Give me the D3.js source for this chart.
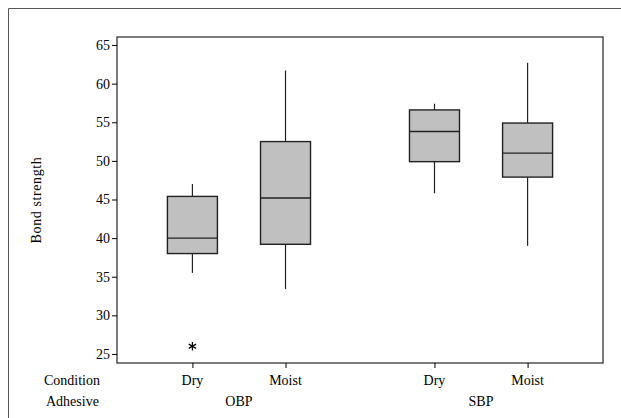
<!DOCTYPE html>
<html><head><meta charset="utf-8">
<script src="https://cdn.jsdelivr.net/npm/d3@7"></script>
<style>body{margin:0;background:#fff;font-family:'Liberation Serif'}svg{display:block}</style>
</head><body>
<script>
const conditions = ["Dry","Moist","Dry","Moist"];
const adhesives = ["OBP","SBP"];
const adhesiveOf = [0,0,1,1];
const positions = [0, 1, 2.6, 3.6];
const whiskerLow = [35.5, 33.4, 45.8, 39.0];
const q1 = [38.0, 39.2, 49.9, 47.9];
const median = [40.0, 45.2, 53.8, 51.0];
const q3 = [45.4, 52.5, 56.6, 54.9];
const whiskerHigh = [47.0, 61.7, 57.4, 62.7];
const outliers = [{box:0, value:26.0}];
const yTicks = [25,30,35,40,45,50,55,60,65];
const yTitle = "Bond strength";

const W = 621, H = 418;
const FONT = "Liberation Serif";
const FS = 14;
const svg = d3.select("body").append("svg").attr("width", W).attr("height", H).attr("font-family", FONT);
const L = 117, R = 603, T = 37, B = 363;
const x = d3.scaleLinear().domain([-0.81, 4.41]).range([L, R]);
const y = d3.scaleLinear().domain([23.83, 66.04]).range([B, T]);

svg.append("path").attr("d", `M8.5,418V8.5H621`).attr("fill","none").attr("stroke","#555").attr("stroke-width",1);

svg.append("rect").attr("x", L).attr("y", T).attr("width", R-L).attr("height", B-T)
  .attr("fill","none").attr("stroke","#333").attr("stroke-width",1.3);

const yAxis = d3.axisLeft(y).tickValues(yTicks).tickSize(5).tickPadding(2);
const gy = svg.append("g").attr("transform", `translate(${L},0)`).call(yAxis).attr("font-family", FONT).attr("font-size", FS);
gy.select(".domain").remove();
gy.selectAll("line").attr("stroke","#000");
gy.selectAll("text").attr("fill","#000").attr("font-family", FONT);

const xAxis = d3.axisBottom(x).tickValues(positions).tickSize(5).tickFormat("");
const gx = svg.append("g").attr("transform", `translate(0,${B})`).call(xAxis);
gx.select(".domain").remove();
gx.selectAll("line").attr("stroke","#000");

svg.append("text").attr("transform", `translate(41,${(T+B)/2}) rotate(-90)`)
  .attr("text-anchor","middle").attr("font-size",FS).attr("letter-spacing",0.6).attr("font-family", FONT).text(yTitle);

const bw = 50;
positions.forEach((p,i)=>{
  const cx = x(p);
  svg.append("line").attr("x1",cx).attr("x2",cx).attr("y1",y(whiskerLow[i])).attr("y2",y(q1[i])).attr("stroke","#222").attr("stroke-width",1.2);
  svg.append("line").attr("x1",cx).attr("x2",cx).attr("y1",y(q3[i])).attr("y2",y(whiskerHigh[i])).attr("stroke","#222").attr("stroke-width",1.2);
  svg.append("rect").attr("x",cx-bw/2).attr("y",y(q3[i])).attr("width",bw).attr("height",y(q1[i])-y(q3[i]))
    .attr("fill","#c0c0c0").attr("stroke","#222").attr("stroke-width",1.4);
  svg.append("line").attr("x1",cx-bw/2).attr("x2",cx+bw/2).attr("y1",y(median[i])).attr("y2",y(median[i])).attr("stroke","#222").attr("stroke-width",1.4);
});

outliers.forEach(o=>{
  svg.append("path").attr("d", d3.symbol(d3.symbolAsterisk, 50)())
    .attr("transform", `translate(${x(positions[o.box])},${y(o.value)})`)
    .attr("fill","none").attr("stroke","#000").attr("stroke-width",1.2);
});

svg.append("text").attr("x",44).attr("y",385).attr("font-size",FS).attr("font-family", FONT).text("Condition");
svg.append("text").attr("x",46).attr("y",406).attr("font-size",FS).attr("font-family", FONT).text("Adhesive");
positions.forEach((p,i)=>{
  svg.append("text").attr("x",x(p)).attr("y",385).attr("text-anchor","middle").attr("font-size",FS).attr("font-family", FONT).text(conditions[i]);
});
adhesives.forEach((a,j)=>{
  const ps = positions.filter((p,i)=>adhesiveOf[i]===j);
  svg.append("text").attr("x",x(d3.mean(ps))).attr("y",406).attr("text-anchor","middle").attr("font-size",FS).attr("font-family", FONT).text(a);
});
</script>
</body></html>
